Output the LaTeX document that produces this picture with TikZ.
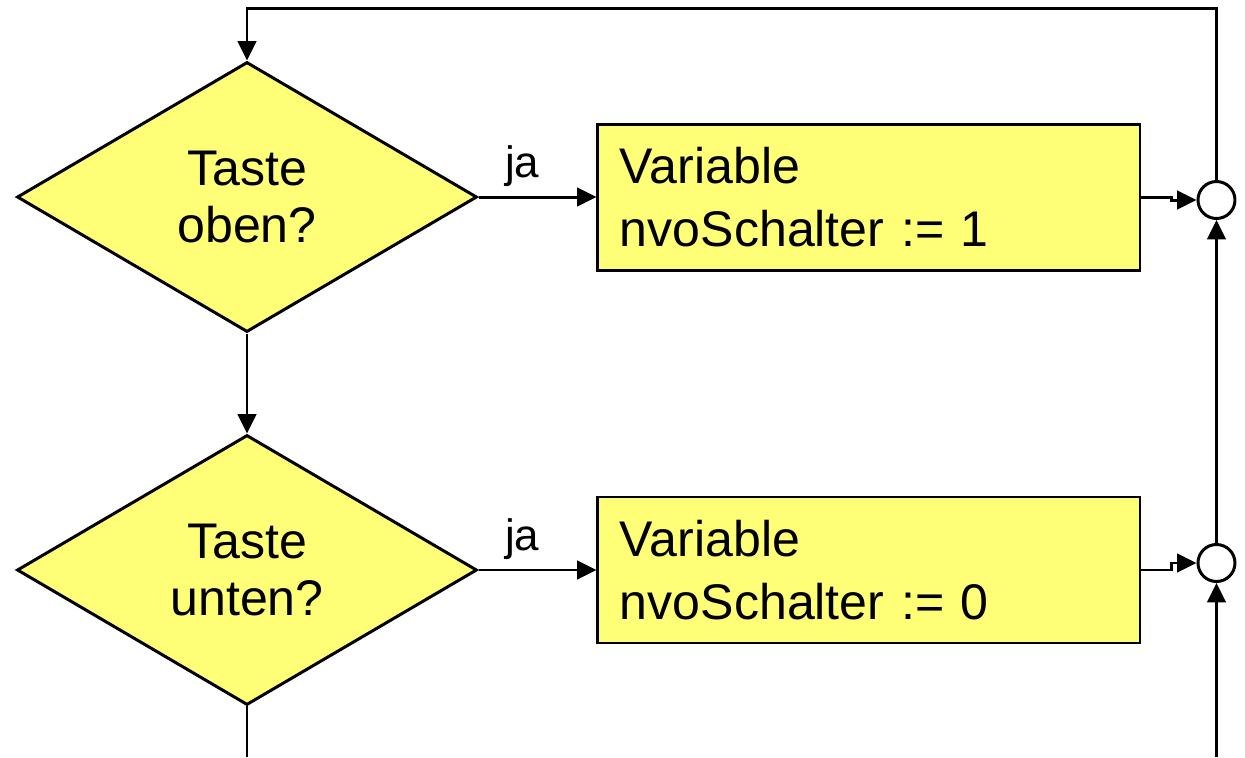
\documentclass[tikz,border=0pt]{standalone}
\usepackage{fontspec}
\setmainfont{Liberation Sans}
\usepackage{tikz}
\usetikzlibrary{shapes.geometric,arrows.meta,positioning,calc}
\definecolor{padyellow}{RGB}{255,255,119}

\begin{document}
\begin{tikzpicture}[
  node distance=2.0cm and 2.36cm,
  query/.style={diamond,draw=black,fill=padyellow,line width=1.7pt,
                minimum width=9.2cm,minimum height=5.4cm,inner sep=0pt,align=center,
                font=\fontsize{28.5}{32}\selectfont},
  action/.style={rectangle,draw=black,fill=padyellow,line width=1.7pt,
                 minimum width=10.84cm,minimum height=2.92cm,text width=9.96cm,
                 inner xsep=0.44cm,inner ysep=0pt,align=left,
                 font=\fontsize{28.5}{36}\selectfont},
  merge/.style={circle,draw=black,fill=white,line width=1.7pt,minimum size=0.74cm,inner sep=0pt},
  flow/.style={-{Triangle[length=11pt,width=10.5pt]},line width=1.7pt},
  lbl/.style={font=\fontsize{25}{30}\selectfont},
]
\useasboundingbox (0,0) rectangle (24.9,-15.14);
\node[query]                (qup)     at (4.94,-3.94) {Taste\\oben?};
\node[query,  below=of qup]  (qdown)   {Taste\\unten?};
\node[action, right=of qup]  (setone)  {Variable\\nvoSchalter := 1};
\node[action, right=of qdown] (setzero) {Variable\\nvoSchalter := 0};
\node[merge,  right=1.1cm of setone, yshift=-0.06cm]  (mup)   {};
\node[merge,  right=1.1cm of setzero, yshift=0.14cm]  (mdown) {};
\coordinate (top) at ($(qup.north)+(0,1.04)$);
\coordinate (bot) at (0,-15.14);
\draw[flow] (qup)--node[lbl,above=2pt,pos=0.37]{ja}(setone);
\draw[flow] (qdown)--node[lbl,above=2pt,pos=0.37]{ja}(setzero);
\draw[flow] (setone.east)--++(0.6,0)|-(mup.west);
\draw[flow] (setzero.east)--++(0.6,0)|-(mdown.west);
\draw[flow] (qup.south)--(qdown.north);
\draw[flow] (mdown.north)--(mup.south);
\draw[flow] (mup.north)|-(top)--(qup.north);
\draw[line width=1.7pt] (qdown.south)--(qdown.south |- bot);
\draw[flow] (mdown.south |- bot)--(mdown.south);
\end{tikzpicture}
\end{document}
